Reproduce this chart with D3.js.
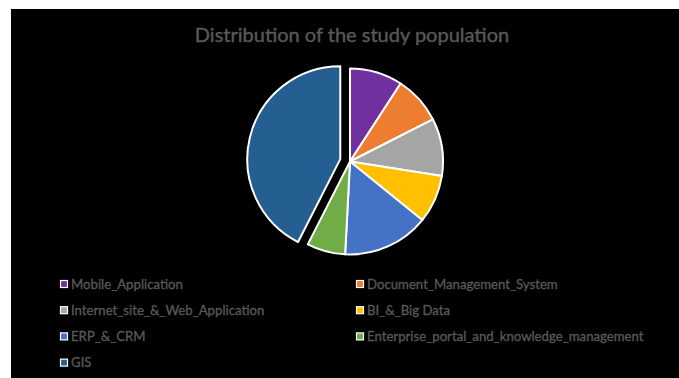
<!DOCTYPE html>
<html>
<head>
<meta charset="utf-8">
<script src="https://cdn.jsdelivr.net/npm/d3@7"></script>
<style>
  html, body { margin: 0; padding: 0; background: #ffffff; }
  svg { display: block; }
  text { font-family: Lato, "Open Sans", sans-serif; }
</style>
</head>
<body>
<svg id="chart" width="679" height="378"></svg>
<script>
// Study population by application domain
const categories = [
  "Mobile_Application",
  "Document_Management_System",
  "Internet_site_&_Web_Application",
  "BI_&_Big Data",
  "ERP_&_CRM",
  "Enterprise_portal_and_knowledge_management",
  "GIS"
];
const counts = [11, 10, 12, 10, 18, 8, 51];
const colors = ["#7030A0", "#ED7D31", "#A5A5A5", "#FFC000", "#4472C4", "#70AD47", "#255E91"];
const explodedCategory = "GIS";
const chartTitle = "Distribution of the study population";

const svg = d3.select("#chart");
const W = 679, H = 378;

// chart area
svg.append("rect")
  .attr("x", 11).attr("y", 9)
  .attr("width", W - 11).attr("height", H - 9)
  .attr("fill", "#000000");

svg.append("text")
  .attr("x", 352).attr("y", 42)
  .attr("text-anchor", "middle")
  .attr("fill", "#595959")
  .attr("stroke", "#595959")
  .attr("stroke-width", 0.4)
  .attr("font-size", 20)
  .text(chartTitle);

// pie
const cx = 350, cy = 161.5, r = 93, explode = 10;
const data = categories.map((c, i) => ({ name: c, value: counts[i], color: colors[i] }));
const pie = d3.pie().sort(null).value(d => d.value).startAngle(0).endAngle(2 * Math.PI);
const arc = d3.arc().innerRadius(0).outerRadius(r);

const g = svg.append("g").attr("transform", `translate(${cx},${cy})`);
g.selectAll("path")
  .data(pie(data))
  .join("path")
  .attr("d", arc)
  .attr("fill", d => d.data.color)
  .attr("stroke", "#ffffff")
  .attr("stroke-width", 2)
  .attr("stroke-linejoin", "round")
  .attr("transform", d => {
    if (d.data.name !== explodedCategory) return null;
    const a = (d.startAngle + d.endAngle) / 2;
    return `translate(${explode * Math.sin(a)},${-explode * Math.cos(a)})`;
  });

// legend: two columns, row-major
const colX = [60, 356], rowY0 = 284, rowStep = 26.2;
const leg = svg.append("g");
const items = leg.selectAll("g")
  .data(data)
  .join("g")
  .attr("transform", (d, i) => `translate(${colX[i % 2]},${rowY0 + Math.floor(i / 2) * rowStep})`);
items.append("rect")
  .attr("x", 0.5).attr("y", -3.5)
  .attr("width", 7).attr("height", 7)
  .attr("fill", d => d.color)
  .attr("stroke", "#ffffff")
  .attr("stroke-width", 1.2);
items.append("text")
  .attr("x", 11).attr("y", 4.5)
  .attr("fill", "#595959")
  .attr("stroke", "#595959")
  .attr("stroke-width", 0.3)
  .attr("font-size", 13.2)
  .text(d => d.name);
</script>
</body>
</html>
